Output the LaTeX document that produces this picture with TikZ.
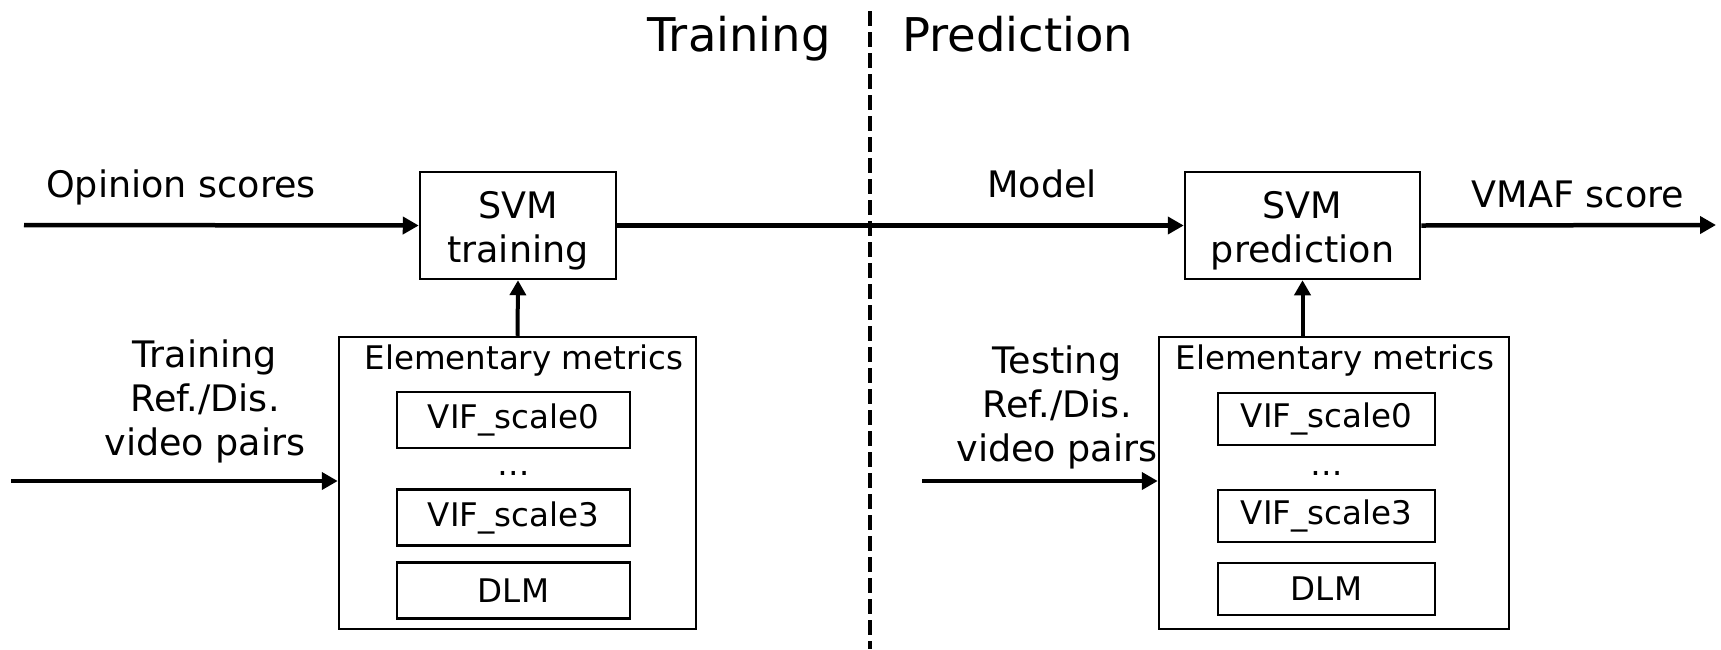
\documentclass[tikz,border=0pt]{standalone}
\usepackage{fontspec}
\setmainfont{DejaVu Sans}
\usetikzlibrary{arrows.meta}
\begin{document}
\begin{tikzpicture}[x=1pt,y=-1pt,
  mainfont/.style={font=\fontsize{36.5}{44}\selectfont},
  titlefont/.style={font=\fontsize{46.5}{54}\selectfont},
  elemfont/.style={font=\fontsize{32.5}{38}\selectfont},
  svmbox/.style={draw,line width=2.5pt,inner sep=0pt,minimum height=107pt,align=center,mainfont,text height=80pt,text depth=7pt},
  metricbox/.style={draw,line width=2.5pt,inner sep=0pt,minimum height=56pt,elemfont},
  groupbox/.style={draw,line width=2.5pt,inner sep=0pt},
  lbl/.style={inner sep=0pt,align=center,mainfont},
  thickarrow/.style={line width=4.5pt,-{Triangle[length=16pt,width=17pt]}},
  thinarrow/.style={line width=4pt,-{Triangle[length=15pt,width=16pt]}},
  divider/.style={line width=4.5pt,dash pattern=on 15pt off 6pt}
]
\useasboundingbox (0,0) rectangle (1721,649);

% divider and titles
\coordinate (dtop) at (870,11);
\coordinate (dbot) at (870,649);
\draw[divider] (dtop) -- (dbot);
\node[titlefont,inner sep=0pt,anchor=base east] (ttrain) at (831,51) {Training};
\node[titlefont,inner sep=0pt,anchor=base west] (tpred) at (902,51) {Prediction};

% training side
\node[svmbox,minimum width=196pt] (svmT) at (518,225.5) {SVM\\training};
\node[groupbox,minimum width=357pt,minimum height=292pt] (elemL) at (517.5,483) {};
\node[elemfont,inner sep=0pt] (elemLt) at (524,361) {Elementary metrics};
\node[metricbox,minimum width=233pt] (vif0L) at (513.5,420) {VIF\_scale0};
\node[elemfont,inner sep=0pt] (dotsL) at (513.5,473) {\ldots};
\node[metricbox,minimum width=233pt] (vif3L) at (513.5,517.5) {VIF\_scale3};
\node[metricbox,minimum width=233pt] (dlmL) at (513.5,590.5) {DLM};
\node[lbl,anchor=base] (opin) at (181,197) {Opinion scores};
\node[lbl] (trainpairs) at (205,401) {Training\\Ref./Dis.\\video pairs};
\coordinate (inOp) at (24,225);
\coordinate (inTr) at (11,481);
\draw[thickarrow] (inOp) -- (svmT.west);
\draw[thickarrow] (inTr) -- (inTr -| elemL.west);
\draw[thinarrow] (elemL.north) -- (svmT.south);

% prediction side
\node[svmbox,minimum width=235pt] (svmP) at (1302.5,225.5) {SVM\\prediction};
\node[groupbox,minimum width=350pt,minimum height=292pt] (elemR) at (1334,483) {};
\node[elemfont,inner sep=0pt] (elemRt) at (1335,361) {Elementary metrics};
\node[metricbox,minimum width=217pt,minimum height=52pt] (vif0R) at (1326.5,419) {VIF\_scale0};
\node[elemfont,inner sep=0pt] (dotsR) at (1326.5,473) {\ldots};
\node[metricbox,minimum width=217pt,minimum height=52pt] (vif3R) at (1326.5,516) {VIF\_scale3};
\node[metricbox,minimum width=217pt,minimum height=52pt] (dlmR) at (1326.5,589) {DLM};
\node[lbl,anchor=base] (model) at (1042,197) {Model};
\node[lbl,anchor=base] (vmaf) at (1578,207) {VMAF score};
\node[lbl] (testpairs) at (1057,407) {Testing\\Ref./Dis.\\video pairs};
\coordinate (inTe) at (922,481);
\coordinate (outV) at (1716,225);
\draw[thickarrow] (svmT.east) -- (svmP.west);
\draw[thickarrow] (svmP.east) -- (outV);
\draw[thickarrow] (inTe) -- (inTe -| elemR.west);
\draw[thinarrow] (svmP.south |- elemR.north) -- (svmP.south);
\end{tikzpicture}
\end{document}
